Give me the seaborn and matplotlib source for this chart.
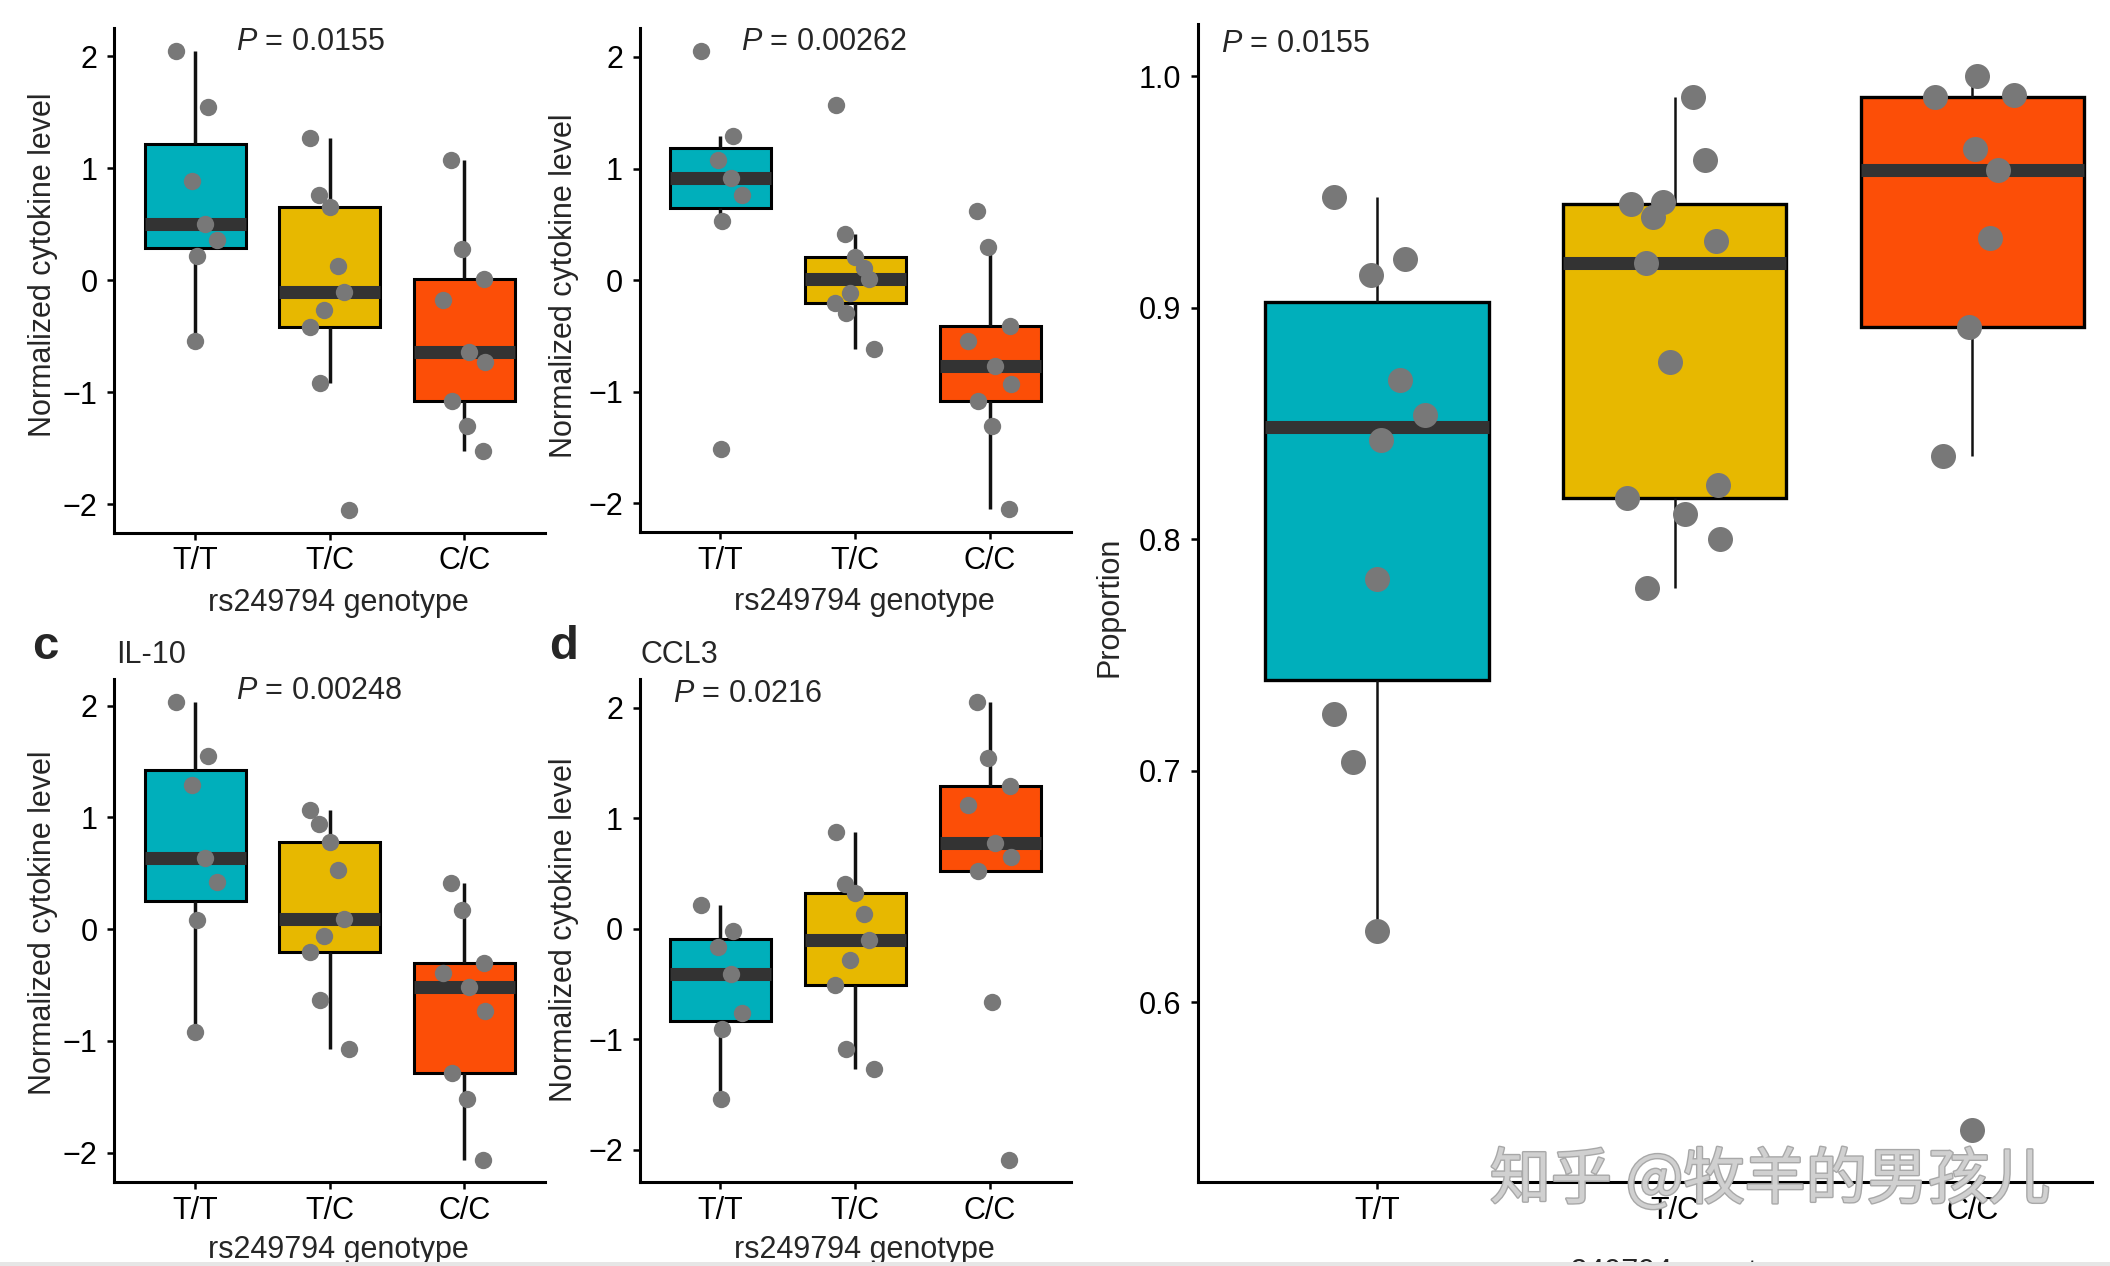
import numpy as np
import pandas as pd
import matplotlib
matplotlib.use("Agg")
import matplotlib.pyplot as plt
import seaborn as sns
from matplotlib import patheffects as pe
from matplotlib.patches import Rectangle

# ---------------- data ----------------
genotypes = ["T/T", "T/C", "C/C"]
box_colors = ["#00AFBB", "#E7B800", "#FC4E07"]

# panel a (top-left)
a_TT = [2.05, 1.55, 0.89, 0.50, 0.36, 0.22, -0.54]
a_TC = [1.27, 0.76, 0.65, 0.13, -0.11, -0.27, -0.42, -0.92, -2.05]
a_CC = [1.07, 0.28, 0.01, -0.18, -0.64, -0.73, -1.08, -1.30, -1.53]
a_p = "0.0155"

# panel b (top-middle)
b_TT = [2.057, 1.29, 1.08, 0.92, 0.765, 0.53, -1.51]
b_TC = [1.57, 0.41, 0.21, 0.11, 0.01, -0.11, -0.20, -0.29, -0.62]
b_CC = [0.62, 0.30, -0.41, -0.545, -0.77, -0.93, -1.08, -1.31, -2.05]
b_p = "0.00262"

# panel c (IL-10)
c_TT = [2.035, 1.55, 1.29, 0.641, 0.42, 0.081, -0.92]
c_TC = [1.07, 0.94, 0.78, 0.53, 0.094, -0.062, -0.205, -0.63, -1.07]
c_CC = [0.41, 0.171, -0.30, -0.396, -0.52, -0.733, -1.29, -1.524, -2.062]
c_p = "0.00248"

# panel d (CCL3)
d_TT = [0.22, -0.019, -0.16, -0.405, -0.761, -0.91, -1.54]
d_TC = [0.88, 0.409, 0.32, 0.137, -0.10, -0.279, -0.51, -1.088, -1.27]
d_CC = [2.054, 1.549, 1.29, 1.122, 0.78, 0.65, 0.527, -0.661, -2.087]
d_p = "0.0216"

# right panel (proportion)
r_TT = [0.948, 0.921, 0.914, 0.8687, 0.8537, 0.843, 0.783, 0.7244, 0.7039, 0.6307]
r_TC = [0.9912, 0.9638, 0.9459, 0.9447, 0.9394, 0.9288, 0.9196, 0.8767,
        0.8233, 0.8178, 0.8108, 0.8002, 0.7792]
r_CC = [1.0, 0.992, 0.991, 0.9686, 0.9597, 0.930, 0.8917, 0.836, 0.545]
r_p = "0.0155"

cyto_ticks = [-2, -1, 0, 1, 2]
prop_ticks = [0.6, 0.7, 0.8, 0.9, 1.0]

xlabel = "rs249794 genotype"
cyto_label = "Normalized cytokine level"
prop_label = "Proportion"

# ---------------- style ----------------
sns.set_style("ticks")
plt.rcParams["font.family"] = ["Liberation Sans", "DejaVu Sans"]
plt.rcParams["mathtext.fontset"] = "custom"
plt.rcParams["mathtext.it"] = "Liberation Sans:italic"
plt.rcParams["mathtext.rm"] = "Liberation Sans"
FS = 22

W, H = 2110, 1266
fig = plt.figure(figsize=(W / 100, H / 100), dpi=100)
fig.patch.set_facecolor("white")


def rect(l, r, t, b):
    return [l / W, 1 - b / H, (r - l) / W, (b - t) / H]


def panel(ax, groups, p_val, p_xy, ylab, ylab_xy, xlab_xy, pt_size, xlim,
          yticks, box_lw, wh_lw, tick_fmt=None):
    df = pd.DataFrame({
        "genotype": np.repeat(genotypes, [len(g) for g in groups]),
        "value": np.concatenate([np.asarray(g, float) for g in groups]),
    })
    sns.boxplot(data=df, x="genotype", y="value", hue="genotype",
                order=genotypes, hue_order=genotypes, palette=box_colors,
                saturation=1, width=0.75, showfliers=False, showcaps=False,
                linecolor="black", linewidth=box_lw, legend=False, ax=ax,
                whiskerprops={"linewidth": wh_lw, "color": "#111111"},
                medianprops={"color": "#333333", "linewidth": 9.4,
                             "solid_capstyle": "butt"})
    np.random.seed(7)
    sns.stripplot(data=df, x="genotype", y="value", order=genotypes,
                  color="#787878", size=pt_size, jitter=0.17, linewidth=0,
                  ax=ax, zorder=4)
    vals = df["value"].to_numpy()
    lo, hi = vals.min(), vals.max()
    pad = 0.05 * (hi - lo)
    ax.set_ylim(lo - pad, hi + pad)
    ax.set_xlim(*xlim)
    ax.set_yticks(yticks)
    if tick_fmt:
        ax.set_yticklabels([tick_fmt % t for t in yticks])
    sns.despine(ax=ax)
    for s in ("left", "bottom"):
        ax.spines[s].set_linewidth(2.2)
        ax.spines[s].set_color("black")
    ax.tick_params(axis="both", direction="out", length=5, width=1.8,
                   labelsize=FS, colors="black")
    ax.tick_params(axis="x", pad=5)
    ax.tick_params(axis="y", pad=7)
    ax.set_xlabel(xlabel, fontsize=FS)
    ax.set_ylabel(ylab, fontsize=FS)
    ax.yaxis.set_label_coords(*ylab_xy)
    ax.yaxis.label.set_verticalalignment("center")
    ax.xaxis.set_label_coords(*xlab_xy)
    ax.xaxis.label.set_verticalalignment("baseline")
    ax.text(p_xy[0], p_xy[1], r"$\it{P}$ = " + p_val, fontsize=FS,
            ha="left", va="baseline")
    ax.set_facecolor("none")


ax_a = fig.add_axes(rect(114.3, 545.3, 27.7, 532.6))
panel(ax_a, [a_TT, a_TC, a_CC], a_p, (0.305, 2.06), cyto_label,
      (-0.1654, 0.530), (0.521, -0.1553), 12.5, (-0.6, 2.6), cyto_ticks, 2.2, 2.5)

ax_b = fig.add_axes(rect(639.6, 1071, 27.7, 532.0))
panel(ax_b, [b_TT, b_TC, b_CC], b_p, (0.15, 2.06), cyto_label,
      (-0.175, 0.488), (0.52, -0.1555), 12.5, (-0.6, 2.6), cyto_ticks, 2.2, 2.5)

ax_c = fig.add_axes(rect(114.3, 545.3, 678.9, 1182.4))
panel(ax_c, [c_TT, c_TC, c_CC], c_p, (0.305, 2.056), cyto_label,
      (-0.1656, 0.5156), (0.521, -0.150), 12.5, (-0.6, 2.6), cyto_ticks, 2.2, 2.5)

ax_d = fig.add_axes(rect(639.6, 1071, 678.9, 1182.4))
panel(ax_d, [d_TT, d_TC, d_CC], d_p, (-0.352, 2.056), cyto_label,
      (-0.175, 0.501), (0.52, -0.150), 12.5, (-0.6, 2.6), cyto_ticks, 2.2, 2.5)

ax_r = fig.add_axes(rect(1198.2, 2091.6, 23.7, 1182.4))
panel(ax_r, [r_TT, r_TC, r_CC], r_p, (-0.525, 1.0104), prop_label,
      (-0.0998, 0.4966), (0.534, -0.0851), 18, (-0.6, 2.4), prop_ticks, 2.4, 1.8,
      tick_fmt="%.1f")

# panel letters and titles
fig.text(32 / W, 1 - 659 / H, "c", fontsize=34, fontweight="bold", va="baseline")
fig.text(116 / W, 1 - 663 / H, "IL-10", fontsize=FS, va="baseline")
fig.text(549 / W, 1 - 659 / H, "d", fontsize=34, fontweight="bold", va="baseline")
fig.text(640.7 / W, 1 - 663 / H, "CCL3", fontsize=FS, va="baseline")

# watermark
fig.text(1770 / W, 1 - 1181 / H, "知乎 @牧羊的男孩儿", fontsize=44,
         family=["Noto Sans CJK SC", "DejaVu Sans"], color="#d0d0d0",
         ha="center", va="center", zorder=10,
         path_effects=[pe.withStroke(linewidth=2, foreground="#a8a8a8")])

# thin grey strip at the very bottom
fig.patches.append(Rectangle((0, 0), 1, 4 / H, transform=fig.transFigure,
                             facecolor="#e6e6e6", edgecolor="none", zorder=20))

fig.savefig("out.png", dpi=100)
